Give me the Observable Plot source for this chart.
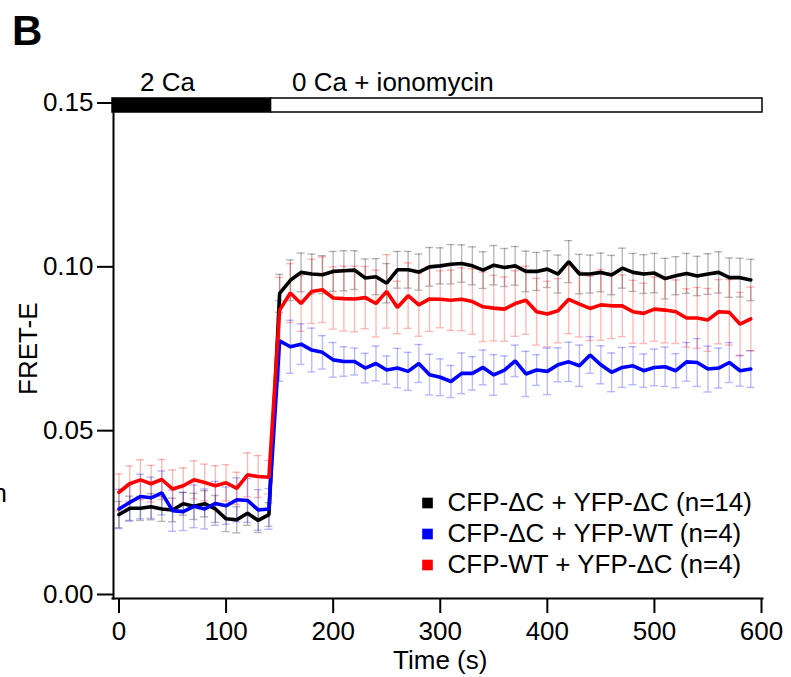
<!DOCTYPE html>
<html>
<head>
<meta charset="utf-8">
<script src="https://cdn.jsdelivr.net/npm/d3@7"></script>
<script src="https://cdn.jsdelivr.net/npm/@observablehq/plot@0.6"></script>
<style>
  html, body { margin: 0; padding: 0; background: #fff; }
</style>
</head>
<body>
<div id="chart"></div>
<script>
// ---- data ----
const time = [0,10,20,30,40,50,60,70,80,90,100,110,120,130,140,
  150,160,170,180,190,200,210,220,230,240,250,260,270,280,290,
  300,310,320,330,340,350,360,370,380,390,400,410,420,430,440,
  450,460,470,480,490,500,510,520,530,540,550,560,570,580,590];

const seriesNames = ["CFP-\u0394C + YFP-\u0394C (n=14)", "CFP-\u0394C + YFP-WT (n=4)", "CFP-WT + YFP-\u0394C (n=4)"];
const seriesColors = ["#000000", "#0000ff", "#ff0000"];

const blackMean = [0.0244,0.0263,0.0263,0.0268,0.0261,0.0258,0.0277,0.0269,0.0277,0.0261,0.0231,0.0228,0.0248,0.0226,0.0244,
  0.0919,0.0959,0.0983,0.0978,0.0976,0.0986,0.0988,0.0990,0.0966,0.0970,0.0950,0.0991,0.0991,0.0984,0.1000,
  0.1003,0.1008,0.1010,0.1003,0.0990,0.1005,0.0998,0.1003,0.0986,0.0986,0.0993,0.0978,0.1016,0.0978,0.0978,
  0.0983,0.0975,0.0996,0.0983,0.0978,0.0981,0.0964,0.0973,0.0980,0.0972,0.0978,0.0983,0.0967,0.0967,0.0960];
const blackErr = [0.0040,0.0037,0.0037,0.0040,0.0038,0.0036,0.0035,0.0040,0.0040,0.0041,0.0039,0.0040,0.0037,0.0037,0.0036,
  0.0058,0.0062,0.0059,0.0061,0.0058,0.0061,0.0061,0.0059,0.0058,0.0055,0.0060,0.0056,0.0056,0.0055,0.0059,
  0.0055,0.0060,0.0057,0.0058,0.0056,0.0060,0.0058,0.0059,0.0062,0.0058,0.0056,0.0058,0.0064,0.0060,0.0058,
  0.0059,0.0060,0.0061,0.0058,0.0059,0.0060,0.0062,0.0058,0.0061,0.0060,0.0062,0.0063,0.0060,0.0059,0.0063];

const blueMean = [0.0261,0.0281,0.0299,0.0295,0.0310,0.0256,0.0253,0.0269,0.0261,0.0278,0.0271,0.0289,0.0287,0.0258,0.0261,
  0.0774,0.0756,0.0764,0.0746,0.0739,0.0716,0.0711,0.0711,0.0691,0.0705,0.0685,0.0691,0.0681,0.0705,0.0671,
  0.0663,0.0650,0.0675,0.0675,0.0693,0.0670,0.0685,0.0713,0.0673,0.0685,0.0681,0.0701,0.0710,0.0698,0.0731,
  0.0701,0.0678,0.0693,0.0698,0.0683,0.0693,0.0695,0.0683,0.0710,0.0708,0.0688,0.0691,0.0708,0.0683,0.0688];
const blueErr = [0.0060,0.0057,0.0068,0.0063,0.0067,0.0063,0.0058,0.0065,0.0061,0.0067,0.0057,0.0067,0.0067,0.0062,0.0062,
  0.0123,0.0081,0.0062,0.0067,0.0051,0.0053,0.0045,0.0041,0.0045,0.0053,0.0043,0.0060,0.0058,0.0058,0.0062,
  0.0056,0.0049,0.0062,0.0051,0.0053,0.0062,0.0043,0.0048,0.0069,0.0047,0.0071,0.0052,0.0060,0.0063,0.0056,
  0.0058,0.0059,0.0061,0.0058,0.0051,0.0056,0.0060,0.0052,0.0059,0.0073,0.0070,0.0061,0.0061,0.0047,0.0056];

const redMean = [0.0312,0.0338,0.0350,0.0338,0.0351,0.0322,0.0332,0.0350,0.0342,0.0332,0.0341,0.0324,0.0365,0.0360,0.0358,
  0.0868,0.0920,0.0888,0.0925,0.0930,0.0905,0.0903,0.0902,0.0906,0.0888,0.0925,0.0876,0.0912,0.0884,0.0902,
  0.0901,0.0898,0.0901,0.0894,0.0878,0.0874,0.0871,0.0888,0.0898,0.0863,0.0856,0.0866,0.0901,0.0886,0.0873,
  0.0884,0.0881,0.0881,0.0863,0.0858,0.0871,0.0868,0.0863,0.0844,0.0844,0.0838,0.0863,0.0861,0.0825,0.0841];
const redErr = [0.0056,0.0054,0.0061,0.0056,0.0061,0.0058,0.0054,0.0058,0.0056,0.0061,0.0055,0.0049,0.0067,0.0064,0.0051,
  0.0100,0.0090,0.0085,0.0098,0.0100,0.0095,0.0099,0.0100,0.0095,0.0102,0.0112,0.0080,0.0100,0.0096,0.0099,
  0.0087,0.0092,0.0096,0.0100,0.0106,0.0100,0.0098,0.0100,0.0104,0.0102,0.0100,0.0098,0.0105,0.0100,0.0098,
  0.0108,0.0100,0.0094,0.0096,0.0092,0.0098,0.0100,0.0097,0.0089,0.0093,0.0096,0.0098,0.0100,0.0097,0.0097];

const phaseLabels = ["2 Ca", "0 Ca + ionomycin"];
const phaseStart = [0, 142];
const phaseEnd = [142, 600];
const phaseFill = ["#000000", "#ffffff"];

const xTicks = [0, 100, 200, 300, 400, 500, 600];
const yTicks = [0.00, 0.05, 0.10, 0.15];

const panelLabel = "B";
const xLabel = "Time (s)";
const yLabel = "FRET-E";

// ---- build tables ----
const means = [blackMean, blueMean, redMean];
const errs = [blackErr, blueErr, redErr];
const series = means.map((m, s) => time.map((t, i) => ({t, v: m[i], e: errs[s][i]})));
const phases = phaseLabels.map((label, i) => ({label, from: phaseStart[i], to: phaseEnd[i], fill: phaseFill[i]}));
const yMax = d3.max(yTicks);

const FONT = "'Liberation Sans', Arial, Helvetica, sans-serif";

const marks = [];

// error bars + lines
series.forEach((rows, s) => {
  const c = seriesColors[s];
  marks.push(Plot.ruleX(rows, {x: "t", y1: d => d.v - d.e, y2: d => d.v + d.e, stroke: c, strokeOpacity: 0.28, strokeWidth: 1.4}));
  marks.push(Plot.ruleY(rows, {y: d => d.v + d.e, x1: "t", x2: "t", insetLeft: -4, insetRight: -4, stroke: c, strokeOpacity: 0.28, strokeWidth: 1.4}));
  marks.push(Plot.ruleY(rows, {y: d => d.v - d.e, x1: "t", x2: "t", insetLeft: -4, insetRight: -4, stroke: c, strokeOpacity: 0.28, strokeWidth: 1.4}));
});
series.forEach((rows, s) => {
  marks.push(Plot.line(rows, {x: "t", y: "v", stroke: seriesColors[s], strokeWidth: 3.6, strokeLinejoin: "miter"}));
});

// stimulus bar
marks.push(Plot.rect([phases[0]], {x1: "from", x2: "to", y1: () => yMax, y2: () => yMax,
  insetTop: -4.5, insetBottom: -9.5, insetLeft: -6.5, fill: d => d.fill, stroke: "#000", strokeWidth: 1.5}));
marks.push(Plot.rect([phases[1]], {x1: "from", x2: "to", y1: () => yMax, y2: () => yMax,
  insetTop: -4.5, insetBottom: -9.5, insetRight: -1, fill: d => d.fill, stroke: "#000", strokeWidth: 1.5}));
marks.push(Plot.text(phases, {x: "from", y: () => yMax, text: "label", dx: 21, dy: -20,
  textAnchor: "start", lineAnchor: "middle", fill: "#000"}));

// axes
marks.push(Plot.axisY({ticks: yTicks, tickFormat: d3.format(".2f"), tickSize: 16, tickPadding: 4, dx: -5.5,
  strokeWidth: 2, label: null}));
marks.push(Plot.axisX({ticks: xTicks, tickFormat: d3.format("d"), tickSize: 15, tickPadding: 8, dy: 4,
  strokeWidth: 2, label: null}));
marks.push(Plot.frame({anchor: "left", dx: -5.5, insetTop: -4.5, insetBottom: -4, strokeWidth: 2}));
marks.push(Plot.frame({anchor: "bottom", dy: 4, insetLeft: -6.5, insetRight: -1, strokeWidth: 2}));

// axis titles
marks.push(Plot.text([yLabel], {text: d => d, frameAnchor: "left", dx: -90.5, rotate: -90,
  textAnchor: "middle", lineAnchor: "middle"}));
marks.push(Plot.text([xLabel], {text: d => d, frameAnchor: "bottom", dy: 66,
  textAnchor: "middle", lineAnchor: "middle"}));

// panel label
marks.push(Plot.text([panelLabel], {text: d => d, frameAnchor: "top-left", dx: -107, dy: -88,
  textAnchor: "start", lineAnchor: "top", fontWeight: "bold", fontSize: 42}));
// fragment of neighbouring panel text at the left edge
marks.push(Plot.text(["n"], {text: d => d, frameAnchor: "top-left", dx: -112, dy: 391,
  textAnchor: "end", lineAnchor: "middle"}));

// legend
seriesNames.forEach((name, i) => {
  const dy = 400 + i * 31;
  marks.push(Plot.dot([name], {frameAnchor: "top-left", dx: 308.5, dy, symbol: "square", r: 6, fill: seriesColors[i], stroke: null}));
  marks.push(Plot.text([name], {text: d => d, frameAnchor: "top-left", dx: 328.5, dy,
    textAnchor: "start", lineAnchor: "middle"}));
});

const chart = Plot.plot({
  width: 791,
  height: 677,
  marginLeft: 118.5,
  marginRight: 30,
  marginTop: 102.5,
  marginBottom: 83,
  style: {fontFamily: FONT, fontSize: "26px", background: "#fff", color: "#000", overflow: "visible"},
  x: {domain: [0, 600], axis: null},
  y: {domain: [0, 0.15], axis: null},
  marks
});
document.getElementById("chart").appendChild(chart);
</script>
</body>
</html>
